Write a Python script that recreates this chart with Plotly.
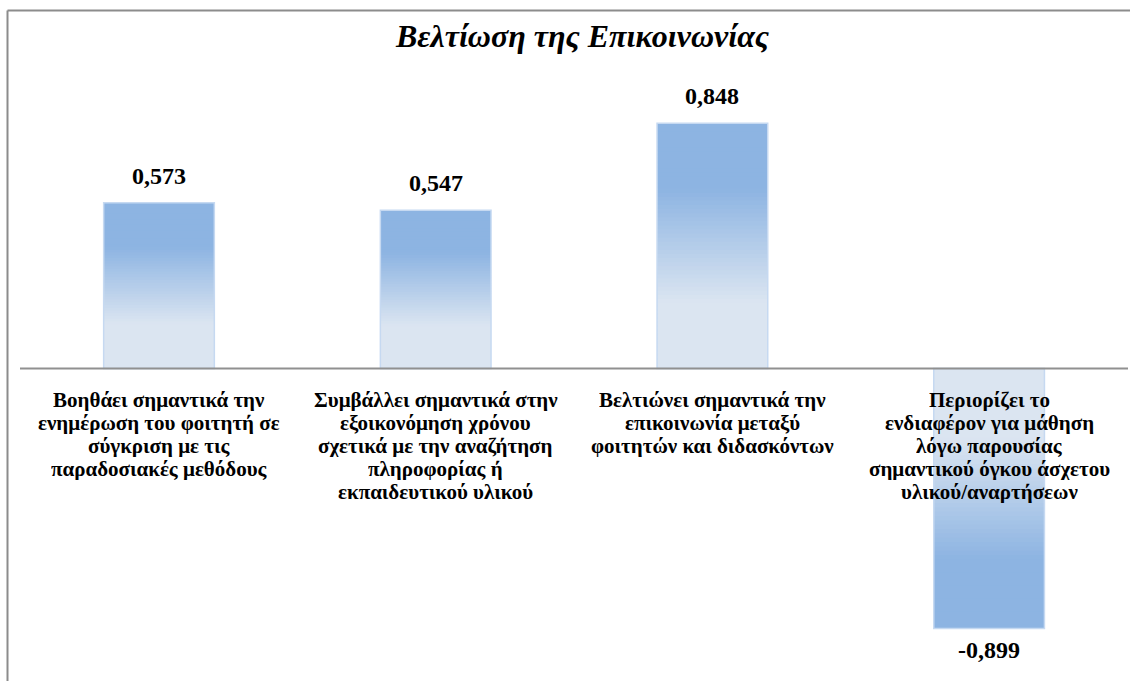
import plotly.graph_objects as go

# ---- data ----
categories = [
    "Βοηθάει σημαντικά την<br>ενημέρωση του φοιτητή σε<br>σύγκριση με τις<br>παραδοσιακές μεθόδους",
    "Συμβάλλει σημαντικά στην<br>εξοικονόμηση χρόνου<br>σχετικά με την αναζήτηση<br>πληροφορίας ή<br>εκπαιδευτικού υλικού",
    "Βελτιώνει σημαντικά την<br>επικοινωνία μεταξύ<br>φοιτητών και διδασκόντων",
    "Περιορίζει το<br>ενδιαφέρον για μάθηση<br>λόγω παρουσίας<br>σημαντικού όγκου άσχετου<br>υλικού/αναρτήσεων",
]
values = [0.573, 0.547, 0.848, -0.899]
value_labels = ["0,573", "0,547", "0,848", "-0,899"]
title_text = "Βελτίωση της Επικοινωνίας"

FONT = "Liberation Serif, Times New Roman, serif"
W, H = 1130, 681
BLUE = (141, 180, 226)
LIGHT = (219, 229, 241)
N = 60
BAR_W = 0.40


def grad(t):
    # t: 0 at axis, 1 at bar tip
    s = 1 - t  # distance from tip
    if s <= 0.27:
        f = 0.0
    elif s >= 0.73:
        f = 1.0
    else:
        f = (s - 0.27) / 0.46
    c = [round(BLUE[k] + (LIGHT[k] - BLUE[k]) * f) for k in range(3)]
    return "rgb(%d,%d,%d)" % tuple(c)


xs, ys, bases, cols = [], [], [], []
for i, v in enumerate(values):
    for j in range(N):
        b = v * j / N
        top = v * min(j + 1.7, N) / N
        xs.append(i)
        bases.append(b)
        ys.append(top - b)
        cols.append(grad((j + 0.5) / N))

fig = go.Figure()
fig.add_trace(go.Bar(
    x=xs, y=ys, base=bases, width=BAR_W,
    marker=dict(color=cols, line=dict(width=0)),
    hoverinfo="skip", showlegend=False,
))
fig.add_trace(go.Bar(
    x=list(range(len(values))), y=values, width=BAR_W,
    marker=dict(color="rgba(0,0,0,0)", line=dict(color="#C6D9F1", width=1.5)),
    hoverinfo="skip", showlegend=False,
))

# px mapping
zero_px = 368.5
scale = 289.3
x0_px, step_px = 159.0, 276.7
y_top = zero_px / scale
y_bot = (zero_px - H) / scale
x_left = -x0_px / step_px
x_right = (W - x0_px) / step_px

LINE_H = 23
annotations = []
for i, (c, v, lab) in enumerate(zip(categories, values, value_labels)):
    for k, line in enumerate(c.split("<br>")):
        annotations.append(dict(
            x=i, y=0, xref="x", yref="y", text="<b>%s</b>" % line, showarrow=False,
            yanchor="middle", yshift=-31.5 - k * LINE_H, align="center",
            height=22, borderpad=0, valign="middle",
            font=dict(family=FONT, size=21, color="black"),
        ))
    annotations.append(dict(
        x=i, y=v, xref="x", yref="y", text="<b>%s</b>" % lab, showarrow=False,
        yanchor="middle", yshift=27 if v >= 0 else -21,
        font=dict(family=FONT, size=24, color="black"),
    ))
annotations.append(dict(
    x=582 / W, y=1 - 36 / H, xref="paper", yref="paper",
    text="<b><i>%s</i></b>" % title_text, showarrow=False,
    xanchor="center", yanchor="middle",
    font=dict(family=FONT, size=32, color="black"),
))

shapes = [
    # zero line
    dict(type="line", xref="paper", yref="y", x0=20 / W, x1=1128 / W, y0=0, y1=0,
         line=dict(color="#909090", width=2)),
    # frame left
    dict(type="line", xref="paper", yref="paper", x0=7.5 / W, x1=7.5 / W,
         y0=0, y1=1 - 10.5 / H, line=dict(color="#8C8C8C", width=2)),
    # frame top
    dict(type="line", xref="paper", yref="paper", x0=7.5 / W, x1=1,
         y0=1 - 10.5 / H, y1=1 - 10.5 / H, line=dict(color="#8C8C8C", width=2)),
]

fig.update_layout(
    width=W, height=H,
    margin=dict(l=0, r=0, t=0, b=0),
    paper_bgcolor="white", plot_bgcolor="white",
    barmode="overlay",
    xaxis=dict(range=[x_left, x_right], visible=False, fixedrange=True),
    yaxis=dict(range=[y_bot, y_top], visible=False, fixedrange=True),
    annotations=annotations, shapes=shapes,
    font=dict(family=FONT),
)

fig.write_html(
    "out.html",
    config={"displayModeBar": False},
    post_script="document.body.style.margin='0';document.body.style.overflow='hidden';",
)
